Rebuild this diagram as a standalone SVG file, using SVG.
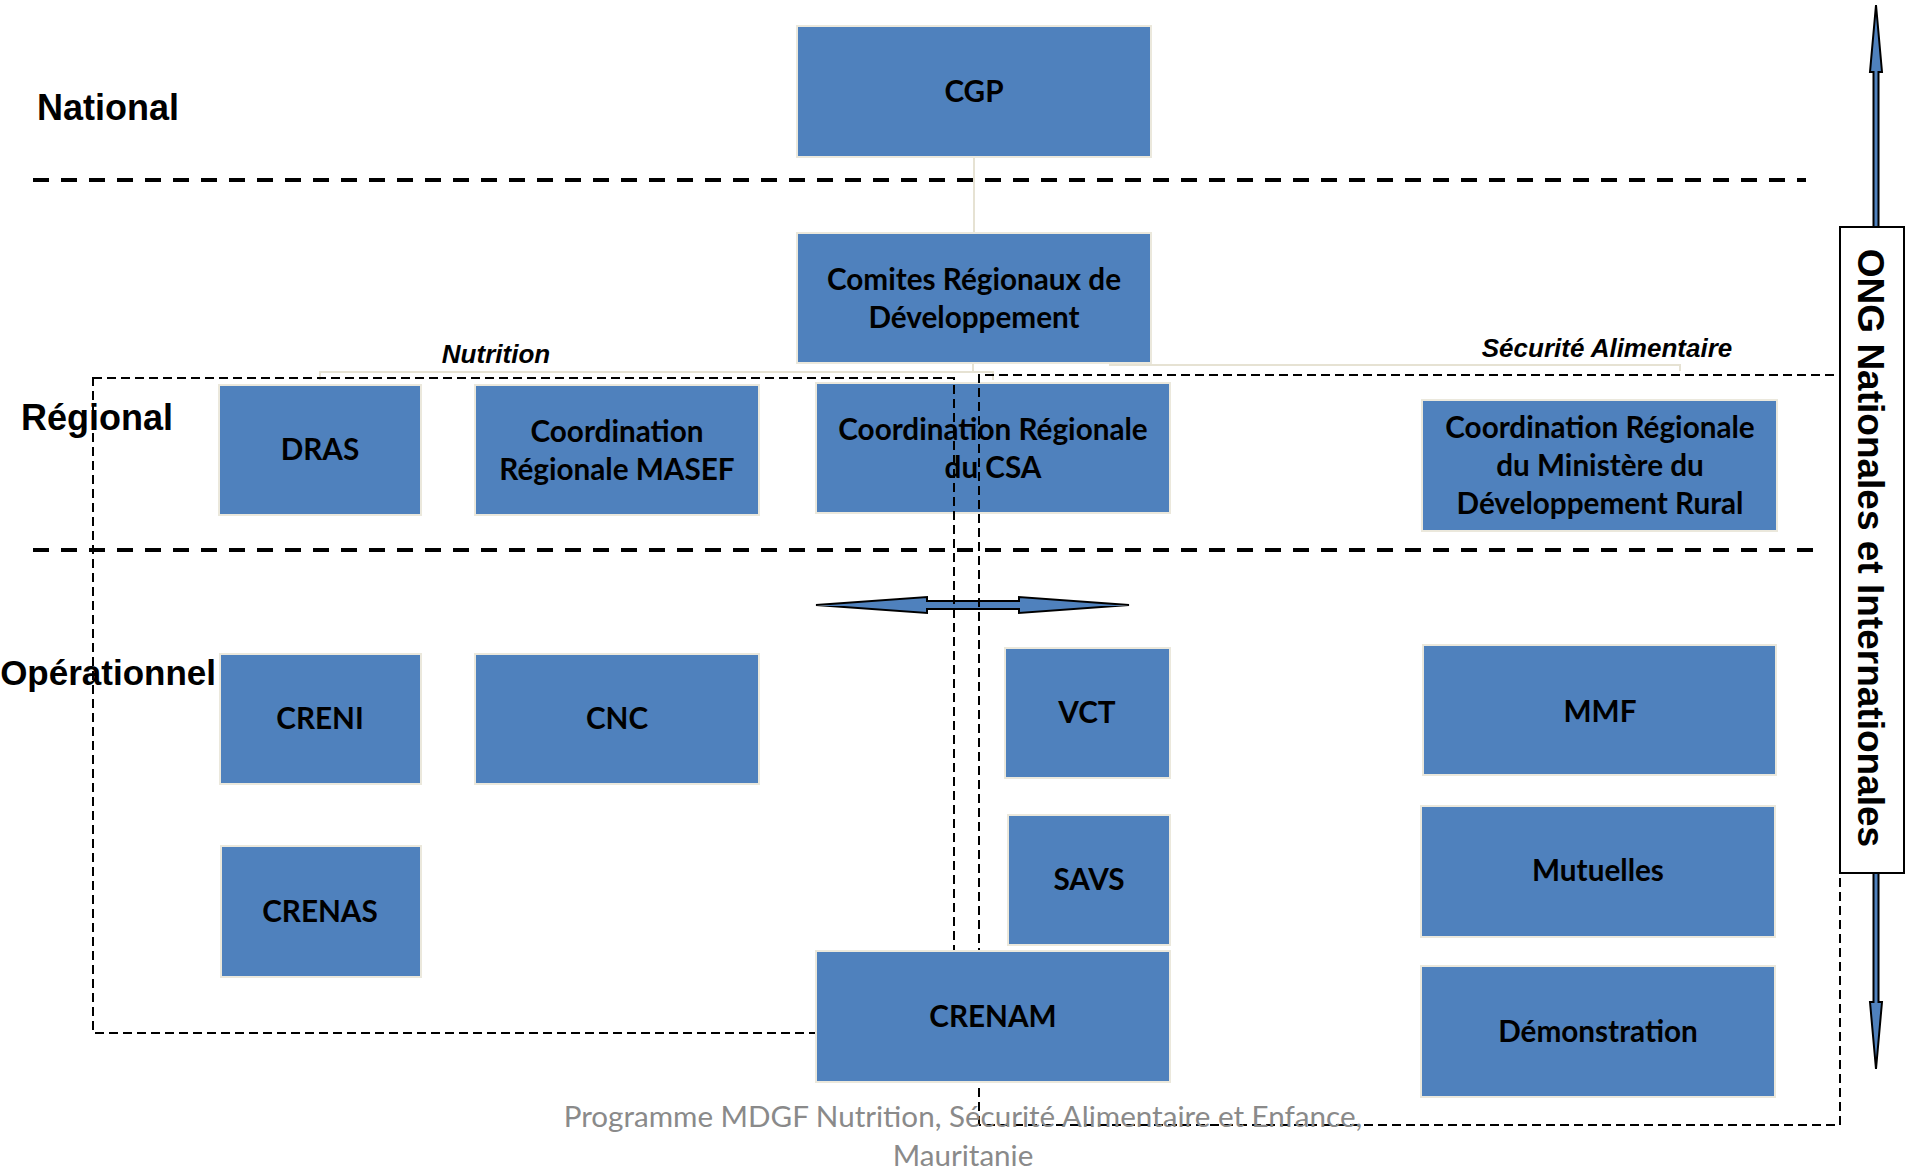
<svg xmlns="http://www.w3.org/2000/svg" width="1905" height="1170" viewBox="0 0 1905 1170">
<style>
.box{fill:#4f81bd;stroke:#ebe8dc;stroke-width:2}
.bt{font-family:Lato,"Liberation Sans",sans-serif;font-weight:bold;font-size:29.7px;fill:#000;text-anchor:middle}
.lvl{font-family:"Liberation Sans",Arial,sans-serif;font-weight:bold;font-size:36px;fill:#000}
.grp{font-family:"Liberation Sans",Arial,sans-serif;font-weight:bold;font-style:italic;font-size:26px;fill:#000;text-anchor:middle}
.sep{stroke:#000;stroke-width:4;stroke-dasharray:16 12;fill:none}
.dash{stroke:#000;stroke-width:2;stroke-dasharray:9 5;fill:none}
.org{stroke:#e6e2d3;stroke-width:2;fill:none}
.arr{fill:#4f81bd;stroke:#000;stroke-width:2;stroke-linejoin:miter}
.foot{font-family:Lato,"Liberation Sans",sans-serif;font-size:29.6px;fill:#8a8a8a;text-anchor:middle}
</style>
<rect width="1905" height="1170" fill="#fff"/>

<g id="levels">
<text class="lvl" x="37" y="120">National</text>
<text class="lvl" x="21" y="430">Régional</text>
<text class="lvl" x="216" y="685" text-anchor="end" style="font-size:35px">Opérationnel</text>
<line class="sep" x1="33" y1="180" x2="1806" y2="180"/>
<line class="sep" x1="33" y1="550" x2="1814" y2="550"/>
</g>

<g id="connectors">
<polyline class="org" points="974,157 974,233"/>
<polyline class="org" points="973,363 973,372 320,372 320,380"/>
<polyline class="org" points="973,372 993,372 993,380"/>
<polyline class="org" points="1110,360 1110,365 1680,365 1680,371"/>
<polygon class="arr" points="816,605 927,597 927,601 1019,601 1019,597 1129,605 1019,613 1019,609 927,609 927,613"/>
<polygon class="arr" points="1876,5 1882,72 1878.5,72 1878.5,227 1873.5,227 1873.5,72 1870,72"/>
<polygon class="arr" points="1876,1069 1882,1002 1878.5,1002 1878.5,873 1873.5,873 1873.5,1002 1870,1002"/>
</g>

<g id="node-cgp"><rect class="box" x="797" y="26" width="354" height="131"/><text class="bt" x="974" y="102">CGP</text></g>
<g id="node-comites"><rect class="box" x="797" y="233" width="354" height="130"/><text class="bt" x="974" y="290">Comites Régionaux de</text><text class="bt" x="974" y="328">Développement</text></g>
<g id="node-dras"><rect class="box" x="219" y="385" width="202" height="130"/><text class="bt" x="320" y="460">DRAS</text></g>
<g id="node-masef"><rect class="box" x="475" y="385" width="284" height="130"/><text class="bt" x="617" y="442">Coordination</text><text class="bt" x="617" y="480">Régionale MASEF</text></g>
<g id="node-csa"><rect class="box" x="816" y="383" width="354" height="130"/><text class="bt" x="993" y="440">Coordination Régionale</text><text class="bt" x="993" y="478">du CSA</text></g>
<g id="node-mdr"><rect class="box" x="1422" y="400" width="355" height="131"/><text class="bt" x="1600" y="438">Coordination Régionale</text><text class="bt" x="1600" y="476">du Ministère du</text><text class="bt" x="1600" y="514">Développement Rural</text></g>
<g id="node-creni"><rect class="box" x="220" y="654" width="201" height="130"/><text class="bt" x="320" y="729">CRENI</text></g>
<g id="node-cnc"><rect class="box" x="475" y="654" width="284" height="130"/><text class="bt" x="617" y="729">CNC</text></g>
<g id="node-crenas"><rect class="box" x="221" y="846" width="200" height="131"/><text class="bt" x="320" y="922">CRENAS</text></g>
<g id="node-vct"><rect class="box" x="1005" y="648" width="165" height="130"/><text class="bt" x="1087" y="723">VCT</text></g>
<g id="node-savs"><rect class="box" x="1008" y="815" width="162" height="130"/><text class="bt" x="1089" y="890">SAVS</text></g>
<g id="node-mmf"><rect class="box" x="1423" y="645" width="353" height="130"/><text class="bt" x="1600" y="722">MMF</text></g>
<g id="node-mutuelles"><rect class="box" x="1421" y="806" width="354" height="131"/><text class="bt" x="1598" y="881">Mutuelles</text></g>
<g id="node-demonstration"><rect class="box" x="1421" y="966" width="354" height="131"/><text class="bt" x="1598" y="1042">Démonstration</text></g>

<g id="groupings">
<rect class="dash" x="93" y="378" width="861" height="655"/>
<polyline class="dash" points="979,1125 979,375 1840,375 1840,1125 979,1125"/>
<text class="grp" x="496" y="363">Nutrition</text>
<text class="grp" x="1607" y="357">Sécurité Alimentaire</text>
</g>

<g id="node-crenam"><rect class="box" x="816" y="951" width="354" height="131"/><text class="bt" x="993" y="1027">CRENAM</text></g>

<g id="node-ong"><rect x="1840" y="227" width="64" height="646" fill="#fff" stroke="#000" stroke-width="2"/><text class="lvl" x="1858" y="548" text-anchor="middle" transform="rotate(90 1858 548)" style="font-size:37px">ONG Nationales et Internationales</text></g>

<g id="footer">
<text class="foot" x="963" y="1127">Programme MDGF Nutrition, Sécurité Alimentaire et Enfance,</text>
<text class="foot" x="963" y="1166">Mauritanie</text>
</g>
</svg>
